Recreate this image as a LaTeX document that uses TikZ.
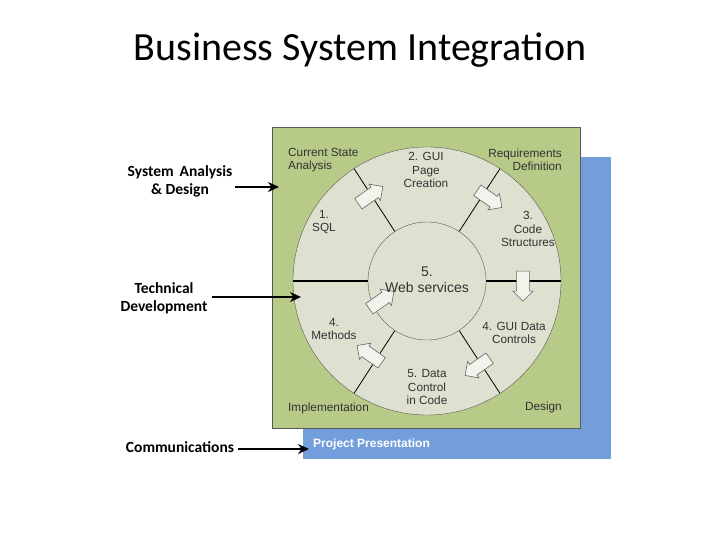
\documentclass[tikz,border=0pt]{standalone}
\usepackage{fontspec}
\setmainfont{Liberation Sans}
\newfontfamily\calfont{Carlito}
\usetikzlibrary{shapes.arrows,arrows.meta,calc}
\definecolor{grn}{RGB}{183,202,136}
\definecolor{blu}{RGB}{114,159,219}
\definecolor{cfill}{RGB}{222,225,208}
\definecolor{txt}{RGB}{50,50,50}
\begin{document}
\begin{tikzpicture}[x=1pt,y=-1pt,
 lbl/.style={font=\fontsize{11.8}{13.5}\selectfont,text=txt,align=center,inner sep=0},
 side/.style={font=\calfont\bfseries\fontsize{15.5}{18}\selectfont,align=center,inner sep=0},
 bar/.style={line width=2pt,-{Stealth[length=11pt,width=10pt]}},
 harrow/.style={single arrow,draw=gray!80!black,fill=cfill!40!white,minimum height=30,minimum width=20,single arrow head extend=3,inner sep=5pt,line width=0.6pt},
 div/.style={line width=0.8pt,black}]
\useasboundingbox (0,0) rectangle (720,540);
\node[font=\calfont\fontsize{40}{44}\selectfont] (title) at (360,50) {Business System Integration};
\node[fill=blu,minimum width=308,minimum height=302,inner sep=0,anchor=north west] (blue) at (303,157) {};
\node[fill=grn,draw=gray!70!black,minimum width=308,minimum height=301,inner sep=0,anchor=north west] (green) at (272,127) {};
\coordinate (c) at (427,281);
\draw[fill=cfill,draw=gray!70!black] (c) circle[radius=134];
\foreach \a in {0,180} \draw[div,line width=1.4pt] ($(c)+(\a:59)$) -- ($(c)+(\a:134)$);
\foreach \a in {57,123,-57,-123} \draw[div] ($(c)+(\a:57)$) -- ($(c)+(\a:134)$);
\draw[fill=cfill,draw=gray!70!black] (c) circle[radius=59];
\node[harrow,rotate=35] (a1) at (368,197) {};
\node[harrow,rotate=-35] (a2) at (487,197) {};
\node[harrow,rotate=-90] (a3) at (523,283) {};
\node[harrow,rotate=-145] (a4) at (480,365) {};
\node[harrow,rotate=145] (a5) at (372,356) {};
\node[harrow,rotate=35] (a6) at (379,302) {};
\node[lbl,align=left,anchor=west] (t1) at (288,160) {Current State\\Analysis};
\node[lbl,align=right,anchor=east] (t2) at (562,160) {Requirements\\Definition};
\node[lbl] (t3) at (426,170) {2. GUI\\Page\\Creation};
\node[lbl] (t4) at (324,222) {1.\\SQL};
\node[lbl] (t5) at (528,229) {3.\\Code\\Structures};
\node[lbl,font=\fontsize{14}{16}\selectfont] (t6) at (427,280) {5.\\Web services};
\node[lbl] (t7) at (334,329) {4.\\Methods};
\node[lbl] (t8) at (514,333) {4. GUI Data\\Controls};
\node[lbl] (t9) at (427,387) {5. Data\\Control\\in Code};
\node[lbl,anchor=west] (t10) at (288,408) {Implementation};
\node[lbl,anchor=east] (t11) at (562,407) {Design};
\node[lbl,anchor=west,text=white,font=\bfseries\fontsize{12}{13}\selectfont] (t12) at (313,444) {Project Presentation};
\node[side] (s1) at (180,181) {System\, Analysis\\\& Design};
\node[side] (s2) at (164,298) {Technical\\Development};
\node[side] (s3) at (180,447) {Communications};
\coordinate (e1) at (279,187);
\coordinate (e2) at (301,297);
\coordinate (e3) at (309,449);
\draw[bar] (s1.east|-e1) ++(2,0) -- (e1);
\draw[bar] (s2.east|-e2) ++(4,0) -- (e2);
\draw[bar] (s3.east|-e3) ++(4,0) -- (e3);
\end{tikzpicture}
\end{document}
